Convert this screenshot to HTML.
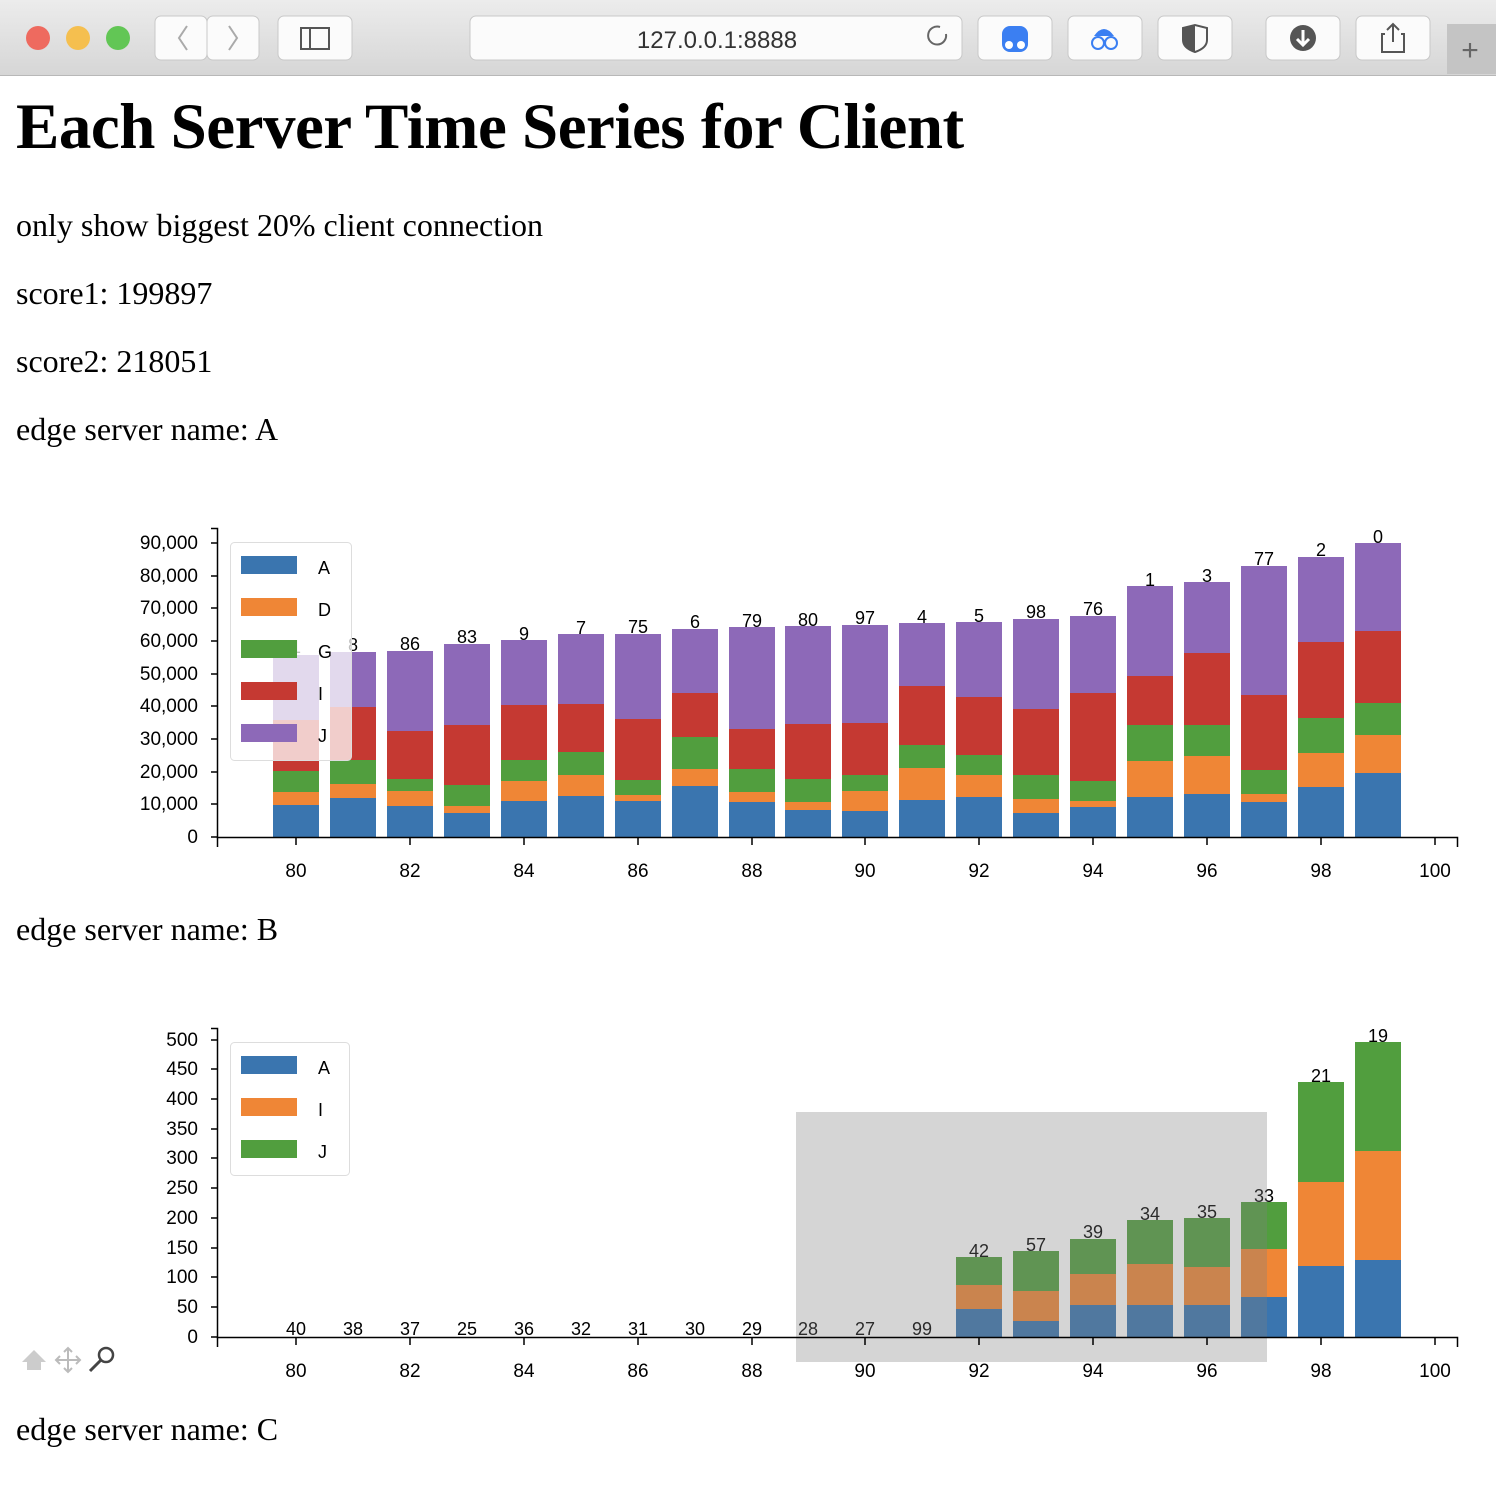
<!DOCTYPE html>
<html><head><meta charset="utf-8"><style>
html,body{margin:0;padding:0;width:1496px;height:1494px;overflow:hidden;background:#fff}
.t{position:absolute;font-family:"Liberation Serif",serif;color:#000;white-space:nowrap}
svg text{font-family:"Liberation Sans",sans-serif}
</style></head><body>
<svg width="1496" height="1494" style="position:absolute;left:0;top:0">
<defs><linearGradient id="cg" x1="0" y1="0" x2="0" y2="1"><stop offset="0" stop-color="#ececec"/><stop offset="1" stop-color="#d6d6d6"/></linearGradient></defs>
<rect x="0" y="0" width="1496" height="75" fill="url(#cg)"/>
<line x1="0" y1="75.5" x2="1496" y2="75.5" stroke="#b8b8b8"/>
<circle cx="38" cy="38" r="12" fill="#ee6a5f"/><circle cx="78" cy="38" r="12" fill="#f5bf4f"/><circle cx="118" cy="38" r="12" fill="#62c655"/>
<g fill="#fbfbfb" stroke="#c8c8c8">
<rect x="155" y="16" width="52" height="44" rx="6"/><rect x="207" y="16" width="52" height="44" rx="6"/>
<rect x="278" y="16" width="74" height="44" rx="6"/><rect x="470" y="16" width="492" height="44" rx="6"/>
<rect x="978" y="16" width="74" height="44" rx="6"/><rect x="1068" y="16" width="74" height="44" rx="6"/>
<rect x="1158" y="16" width="74" height="44" rx="6"/><rect x="1266" y="16" width="74" height="44" rx="6"/><rect x="1356" y="16" width="74" height="44" rx="6"/>
</g>
<rect x="1447" y="24" width="49" height="50" fill="#c4c4c4"/>
<text x="1470" y="60" font-size="30" fill="#666" text-anchor="middle">+</text>
<path d="M187 26 l-8 12 l8 12 M229 26 l8 12 l-8 12" stroke="#aaa" stroke-width="2" fill="none"/>
<rect x="301" y="28" width="28" height="21" fill="none" stroke="#555" stroke-width="2"/><line x1="310" y1="28" x2="310" y2="49" stroke="#555" stroke-width="2"/>
<text x="717" y="48" font-size="24" fill="#333" text-anchor="middle">127.0.0.1:8888</text>
<path d="M946 34 a9 9 0 1 1 -6 -7" stroke="#666" stroke-width="2" fill="none"/>
<rect x="1002" y="26" width="26" height="26" rx="8" fill="#3b7ff2"/><circle cx="1009" cy="45" r="4" fill="#fff"/><circle cx="1021" cy="45" r="4" fill="#fff"/>
<circle cx="1098" cy="43" r="6" fill="none" stroke="#3b7ff2" stroke-width="2"/><circle cx="1111" cy="43" r="6" fill="none" stroke="#3b7ff2" stroke-width="2"/><path d="M1094 36 q10 -14 20 0z" fill="#3b7ff2"/>
<path d="M1183 28 l12 -3 l12 3 v12 q0 8 -12 12 q-12 -4 -12 -12z" fill="none" stroke="#555" stroke-width="2"/><path d="M1195 25 v27 q-12 -4 -12 -12 v-12z" fill="#555"/>
<circle cx="1303" cy="38" r="13" fill="#555"/><path d="M1303 30 v14 M1297 39 l6 6 l6 -6" stroke="#fff" stroke-width="3" fill="none"/>
<path d="M1385 34 h-3 v18 h22 v-18 h-3 M1393 24 v18 M1387 30 l6 -6 l6 6" stroke="#555" stroke-width="2" fill="none"/>

<!-- Chart 1 -->
<g>
<g id="c1">
<rect x="273" y="805" width="46" height="32" fill="#3a75af"/><rect x="273" y="792" width="46" height="13" fill="#ef8636"/><rect x="273" y="771" width="46" height="21" fill="#519e3e"/><rect x="273" y="720" width="46" height="51" fill="#c53932"/><rect x="273" y="655" width="46" height="65" fill="#8d69b8"/>
<rect x="330" y="798" width="46" height="39" fill="#3a75af"/><rect x="330" y="784" width="46" height="14" fill="#ef8636"/><rect x="330" y="760" width="46" height="24" fill="#519e3e"/><rect x="330" y="707" width="46" height="53" fill="#c53932"/><rect x="330" y="652" width="46" height="55" fill="#8d69b8"/>
<rect x="387" y="806" width="46" height="31" fill="#3a75af"/><rect x="387" y="791" width="46" height="15" fill="#ef8636"/><rect x="387" y="779" width="46" height="12" fill="#519e3e"/><rect x="387" y="731" width="46" height="48" fill="#c53932"/><rect x="387" y="651" width="46" height="80" fill="#8d69b8"/>
<rect x="444" y="813" width="46" height="24" fill="#3a75af"/><rect x="444" y="806" width="46" height="7" fill="#ef8636"/><rect x="444" y="785" width="46" height="21" fill="#519e3e"/><rect x="444" y="725" width="46" height="60" fill="#c53932"/><rect x="444" y="644" width="46" height="81" fill="#8d69b8"/>
<rect x="501" y="801" width="46" height="36" fill="#3a75af"/><rect x="501" y="781" width="46" height="20" fill="#ef8636"/><rect x="501" y="760" width="46" height="21" fill="#519e3e"/><rect x="501" y="705" width="46" height="55" fill="#c53932"/><rect x="501" y="640" width="46" height="65" fill="#8d69b8"/>
<rect x="558" y="796" width="46" height="41" fill="#3a75af"/><rect x="558" y="775" width="46" height="21" fill="#ef8636"/><rect x="558" y="752" width="46" height="23" fill="#519e3e"/><rect x="558" y="704" width="46" height="48" fill="#c53932"/><rect x="558" y="634" width="46" height="70" fill="#8d69b8"/>
<rect x="615" y="801" width="46" height="36" fill="#3a75af"/><rect x="615" y="795" width="46" height="6" fill="#ef8636"/><rect x="615" y="780" width="46" height="15" fill="#519e3e"/><rect x="615" y="719" width="46" height="61" fill="#c53932"/><rect x="615" y="634" width="46" height="85" fill="#8d69b8"/>
<rect x="672" y="786" width="46" height="51" fill="#3a75af"/><rect x="672" y="769" width="46" height="17" fill="#ef8636"/><rect x="672" y="737" width="46" height="32" fill="#519e3e"/><rect x="672" y="693" width="46" height="44" fill="#c53932"/><rect x="672" y="629" width="46" height="64" fill="#8d69b8"/>
<rect x="729" y="802" width="46" height="35" fill="#3a75af"/><rect x="729" y="792" width="46" height="10" fill="#ef8636"/><rect x="729" y="769" width="46" height="23" fill="#519e3e"/><rect x="729" y="729" width="46" height="40" fill="#c53932"/><rect x="729" y="627" width="46" height="102" fill="#8d69b8"/>
<rect x="785" y="810" width="46" height="27" fill="#3a75af"/><rect x="785" y="802" width="46" height="8" fill="#ef8636"/><rect x="785" y="779" width="46" height="23" fill="#519e3e"/><rect x="785" y="724" width="46" height="55" fill="#c53932"/><rect x="785" y="626" width="46" height="98" fill="#8d69b8"/>
<rect x="842" y="811" width="46" height="26" fill="#3a75af"/><rect x="842" y="791" width="46" height="20" fill="#ef8636"/><rect x="842" y="775" width="46" height="16" fill="#519e3e"/><rect x="842" y="723" width="46" height="52" fill="#c53932"/><rect x="842" y="625" width="46" height="98" fill="#8d69b8"/>
<rect x="899" y="800" width="46" height="37" fill="#3a75af"/><rect x="899" y="768" width="46" height="32" fill="#ef8636"/><rect x="899" y="745" width="46" height="23" fill="#519e3e"/><rect x="899" y="686" width="46" height="59" fill="#c53932"/><rect x="899" y="623" width="46" height="63" fill="#8d69b8"/>
<rect x="956" y="797" width="46" height="40" fill="#3a75af"/><rect x="956" y="775" width="46" height="22" fill="#ef8636"/><rect x="956" y="755" width="46" height="20" fill="#519e3e"/><rect x="956" y="697" width="46" height="58" fill="#c53932"/><rect x="956" y="622" width="46" height="75" fill="#8d69b8"/>
<rect x="1013" y="813" width="46" height="24" fill="#3a75af"/><rect x="1013" y="799" width="46" height="14" fill="#ef8636"/><rect x="1013" y="775" width="46" height="24" fill="#519e3e"/><rect x="1013" y="709" width="46" height="66" fill="#c53932"/><rect x="1013" y="619" width="46" height="90" fill="#8d69b8"/>
<rect x="1070" y="807" width="46" height="30" fill="#3a75af"/><rect x="1070" y="801" width="46" height="6" fill="#ef8636"/><rect x="1070" y="781" width="46" height="20" fill="#519e3e"/><rect x="1070" y="693" width="46" height="88" fill="#c53932"/><rect x="1070" y="616" width="46" height="77" fill="#8d69b8"/>
<rect x="1127" y="797" width="46" height="40" fill="#3a75af"/><rect x="1127" y="761" width="46" height="36" fill="#ef8636"/><rect x="1127" y="725" width="46" height="36" fill="#519e3e"/><rect x="1127" y="676" width="46" height="49" fill="#c53932"/><rect x="1127" y="586" width="46" height="90" fill="#8d69b8"/>
<rect x="1184" y="794" width="46" height="43" fill="#3a75af"/><rect x="1184" y="756" width="46" height="38" fill="#ef8636"/><rect x="1184" y="725" width="46" height="31" fill="#519e3e"/><rect x="1184" y="653" width="46" height="72" fill="#c53932"/><rect x="1184" y="582" width="46" height="71" fill="#8d69b8"/>
<rect x="1241" y="802" width="46" height="35" fill="#3a75af"/><rect x="1241" y="794" width="46" height="8" fill="#ef8636"/><rect x="1241" y="770" width="46" height="24" fill="#519e3e"/><rect x="1241" y="695" width="46" height="75" fill="#c53932"/><rect x="1241" y="566" width="46" height="129" fill="#8d69b8"/>
<rect x="1298" y="787" width="46" height="50" fill="#3a75af"/><rect x="1298" y="753" width="46" height="34" fill="#ef8636"/><rect x="1298" y="718" width="46" height="35" fill="#519e3e"/><rect x="1298" y="642" width="46" height="76" fill="#c53932"/><rect x="1298" y="557" width="46" height="85" fill="#8d69b8"/>
<rect x="1355" y="773" width="46" height="64" fill="#3a75af"/><rect x="1355" y="735" width="46" height="38" fill="#ef8636"/><rect x="1355" y="703" width="46" height="32" fill="#519e3e"/><rect x="1355" y="631" width="46" height="72" fill="#c53932"/><rect x="1355" y="543" width="46" height="88" fill="#8d69b8"/>
</g>
<g font-size="18" text-anchor="middle" fill="#000">
<text x="296" y="653">1</text><text x="353" y="651">8</text><text x="410" y="650">86</text><text x="467" y="643">83</text><text x="524" y="640">9</text><text x="581" y="634">7</text><text x="638" y="633">75</text><text x="695" y="628">6</text><text x="752" y="627">79</text><text x="808" y="626">80</text><text x="865" y="624">97</text><text x="922" y="623">4</text><text x="979" y="622">5</text><text x="1036" y="618">98</text><text x="1093" y="615">76</text><text x="1150" y="586">1</text><text x="1207" y="582">3</text><text x="1264" y="565">77</text><text x="1321" y="556">2</text><text x="1378" y="543">0</text>
</g>
<rect x="230.5" y="542.5" width="121" height="218" rx="4" fill="#fff" fill-opacity="0.75" stroke="#ddd"/>
<rect x="241" y="556" width="56" height="18" fill="#3a75af"/><rect x="241" y="598" width="56" height="18" fill="#ef8636"/><rect x="241" y="640" width="56" height="18" fill="#519e3e"/><rect x="241" y="682" width="56" height="18" fill="#c53932"/><rect x="241" y="724" width="56" height="18" fill="#8d69b8"/>
<g font-size="18"><text x="318" y="574">A</text><text x="318" y="616">D</text><text x="318" y="658">G</text><text x="318" y="700">I</text><text x="318" y="742">J</text></g>
<g stroke="#000" stroke-width="1.5" fill="none">
<path d="M211 528.5 H217.5 V837.5 H1457.5 V847"/><path d="M217.5 837 V847"/>
<path d="M211 543H217M211 576H217M211 608H217M211 641H217M211 674H217M211 706H217M211 739H217M211 772H217M211 804H217M211 837H217"/>
<path d="M296 837v8M410 837v8M524 837v8M638 837v8M752 837v8M865 837v8M979 837v8M1093 837v8M1207 837v8M1321 837v8M1435 837v8"/>
</g>
<g font-size="19" text-anchor="end"><text x="198" y="549">90,000</text><text x="198" y="582">80,000</text><text x="198" y="614">70,000</text><text x="198" y="647">60,000</text><text x="198" y="680">50,000</text><text x="198" y="712">40,000</text><text x="198" y="745">30,000</text><text x="198" y="778">20,000</text><text x="198" y="810">10,000</text><text x="198" y="843">0</text></g>
<g font-size="19" text-anchor="middle"><text x="296" y="877">80</text><text x="410" y="877">82</text><text x="524" y="877">84</text><text x="638" y="877">86</text><text x="752" y="877">88</text><text x="865" y="877">90</text><text x="979" y="877">92</text><text x="1093" y="877">94</text><text x="1207" y="877">96</text><text x="1321" y="877">98</text><text x="1435" y="877">100</text></g>
</g>

<!-- Chart 2 -->
<g>
<rect x="956" y="1309" width="46" height="28" fill="#3a75af"/><rect x="956" y="1285" width="46" height="24" fill="#ef8636"/><rect x="956" y="1257" width="46" height="28" fill="#519e3e"/>
<rect x="1013" y="1321" width="46" height="16" fill="#3a75af"/><rect x="1013" y="1291" width="46" height="30" fill="#ef8636"/><rect x="1013" y="1251" width="46" height="40" fill="#519e3e"/>
<rect x="1070" y="1305" width="46" height="32" fill="#3a75af"/><rect x="1070" y="1274" width="46" height="31" fill="#ef8636"/><rect x="1070" y="1239" width="46" height="35" fill="#519e3e"/>
<rect x="1127" y="1305" width="46" height="32" fill="#3a75af"/><rect x="1127" y="1264" width="46" height="41" fill="#ef8636"/><rect x="1127" y="1220" width="46" height="44" fill="#519e3e"/>
<rect x="1184" y="1305" width="46" height="32" fill="#3a75af"/><rect x="1184" y="1267" width="46" height="38" fill="#ef8636"/><rect x="1184" y="1218" width="46" height="49" fill="#519e3e"/>
<rect x="1241" y="1297" width="46" height="40" fill="#3a75af"/><rect x="1241" y="1249" width="46" height="48" fill="#ef8636"/><rect x="1241" y="1202" width="46" height="47" fill="#519e3e"/>
<rect x="1298" y="1266" width="46" height="71" fill="#3a75af"/><rect x="1298" y="1182" width="46" height="84" fill="#ef8636"/><rect x="1298" y="1082" width="46" height="100" fill="#519e3e"/>
<rect x="1355" y="1260" width="46" height="77" fill="#3a75af"/><rect x="1355" y="1151" width="46" height="109" fill="#ef8636"/><rect x="1355" y="1042" width="46" height="109" fill="#519e3e"/>
<g font-size="18" text-anchor="middle">
<text x="296" y="1335">40</text><text x="353" y="1335">38</text><text x="410" y="1335">37</text><text x="467" y="1335">25</text><text x="524" y="1335">36</text><text x="581" y="1335">32</text><text x="638" y="1335">31</text><text x="695" y="1335">30</text><text x="752" y="1335">29</text><text x="808" y="1335">28</text><text x="865" y="1335">27</text><text x="922" y="1335">99</text>
<text x="979" y="1257">42</text><text x="1036" y="1251">57</text><text x="1093" y="1238">39</text><text x="1150" y="1220">34</text><text x="1207" y="1218">35</text><text x="1264" y="1202">33</text><text x="1321" y="1082">21</text><text x="1378" y="1042">19</text>
</g>
<rect x="796" y="1112" width="471" height="250" fill="#808080" fill-opacity="0.33"/>
<rect x="230.5" y="1042.5" width="119" height="133" rx="4" fill="#fff" fill-opacity="0.75" stroke="#ddd"/>
<rect x="241" y="1056" width="56" height="18" fill="#3a75af"/><rect x="241" y="1098" width="56" height="18" fill="#ef8636"/><rect x="241" y="1140" width="56" height="18" fill="#519e3e"/>
<g font-size="18"><text x="318" y="1074">A</text><text x="318" y="1116">I</text><text x="318" y="1158">J</text></g>
<g stroke="#000" stroke-width="1.5" fill="none">
<path d="M211 1028.5 H217.5 V1337.5 H1457.5 V1347"/><path d="M217.5 1337 V1347"/>
<path d="M211 1040H217M211 1069H217M211 1099H217M211 1129H217M211 1158H217M211 1188H217M211 1218H217M211 1248H217M211 1277H217M211 1307H217M211 1337H217"/>
<path d="M296 1337v8M410 1337v8M524 1337v8M638 1337v8M752 1337v8M865 1337v8M979 1337v8M1093 1337v8M1207 1337v8M1321 1337v8M1435 1337v8"/>
</g>
<g font-size="19" text-anchor="end"><text x="198" y="1046">500</text><text x="198" y="1075">450</text><text x="198" y="1105">400</text><text x="198" y="1135">350</text><text x="198" y="1164">300</text><text x="198" y="1194">250</text><text x="198" y="1224">200</text><text x="198" y="1254">150</text><text x="198" y="1283">100</text><text x="198" y="1313">50</text><text x="198" y="1343">0</text></g>
<g font-size="19" text-anchor="middle"><text x="296" y="1377">80</text><text x="410" y="1377">82</text><text x="524" y="1377">84</text><text x="638" y="1377">86</text><text x="752" y="1377">88</text><text x="865" y="1377">90</text><text x="979" y="1377">92</text><text x="1093" y="1377">94</text><text x="1207" y="1377">96</text><text x="1321" y="1377">98</text><text x="1435" y="1377">100</text></g>
<path d="M22 1362 l12 -12 l12 12 h-5 v8 h-14 v-8z" fill="#ccc"/>
<path d="M68 1348 v24 M56 1360 h24 M64 1352 l4 -4 l4 4 M64 1368 l4 4 l4 -4 M60 1356 l-4 4 l4 4 M76 1356 l4 4 l-4 4" stroke="#bbb" stroke-width="2" fill="none"/>
<circle cx="106" cy="1355" r="7" fill="none" stroke="#444" stroke-width="2.5"/><path d="M101 1360 l-11 11" stroke="#444" stroke-width="3"/>
</g>
</svg>
<div class="t" style="left:16px;top:90px;font-size:65px;font-weight:bold;letter-spacing:-0.5px">Each Server Time Series for Client</div>
<div class="t" style="left:16px;top:207px;font-size:32px">only show biggest 20% client connection</div>
<div class="t" style="left:16px;top:275px;font-size:32px">score1: 199897</div>
<div class="t" style="left:16px;top:343px;font-size:32px">score2: 218051</div>
<div class="t" style="left:16px;top:411px;font-size:32px">edge server name: A</div>
<div class="t" style="left:16px;top:911px;font-size:32px">edge server name: B</div>
<div class="t" style="left:16px;top:1411px;font-size:32px">edge server name: C</div>
</body></html>
